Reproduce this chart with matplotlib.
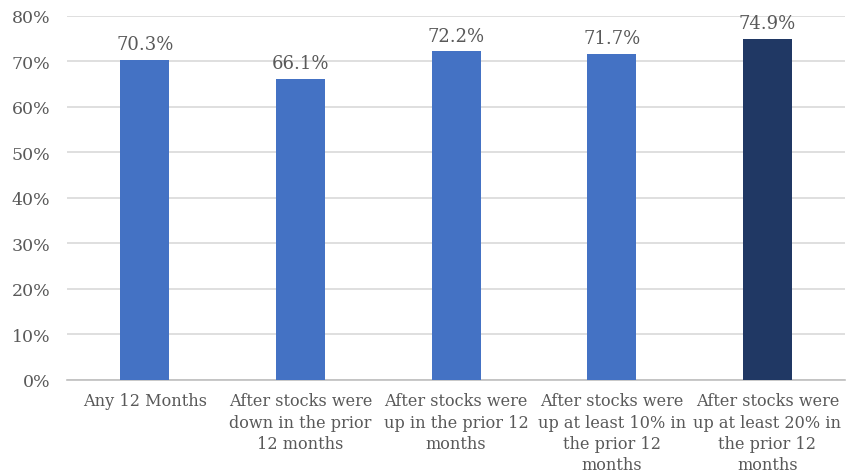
import matplotlib
matplotlib.use("Agg")
import matplotlib.pyplot as plt
from matplotlib.ticker import PercentFormatter

categories = [
    "Any 12 Months",
    "After stocks were\ndown in the prior\n12 months",
    "After stocks were\nup in the prior 12\nmonths",
    "After stocks were\nup at least 10% in\nthe prior 12\nmonths",
    "After stocks were\nup at least 20% in\nthe prior 12\nmonths",
]
values = [70.3, 66.1, 72.2, 71.7, 74.9]
bar_colors = ["#4472C4", "#4472C4", "#4472C4", "#4472C4", "#203864"]

plt.rcParams["font.family"] = ["DejaVu Serif"]
text_color = "#595959"

fig = plt.figure(figsize=(8.59, 4.77), dpi=100)
ax = fig.add_axes([0.078, 0.2013, 0.906, 0.7631])

x = range(len(values))
bars = ax.bar(x, values, width=0.315, color=bar_colors, zorder=3)
for b, v in zip(bars, values):
    ax.annotate(f"{v:.1f}%", (b.get_x() + b.get_width() / 2, v),
                xytext=(0, 5), textcoords="offset points",
                ha="center", va="bottom", fontsize=13, color=text_color)

ax.set_xlim(-0.5, 4.5)
ax.set_ylim(0, 80)
ax.set_yticks(range(0, 81, 10))
ax.yaxis.set_major_formatter(PercentFormatter(decimals=0))
ax.set_xticks(list(x))
ax.set_xticklabels(categories, fontsize=11.6, color=text_color, linespacing=1.32)
ax.tick_params(axis="y", labelsize=12.5, labelcolor=text_color, length=0, pad=12)
ax.tick_params(axis="x", length=0, pad=9)

ax.grid(axis="y", color="#d9d9d9", lw=1.2, zorder=0)
for s in ["top", "right", "left"]:
    ax.spines[s].set_visible(False)
ax.spines["bottom"].set_color("#bfbfbf")
ax.spines["bottom"].set_linewidth(1.2)

fig.savefig("out.png", dpi=100)
